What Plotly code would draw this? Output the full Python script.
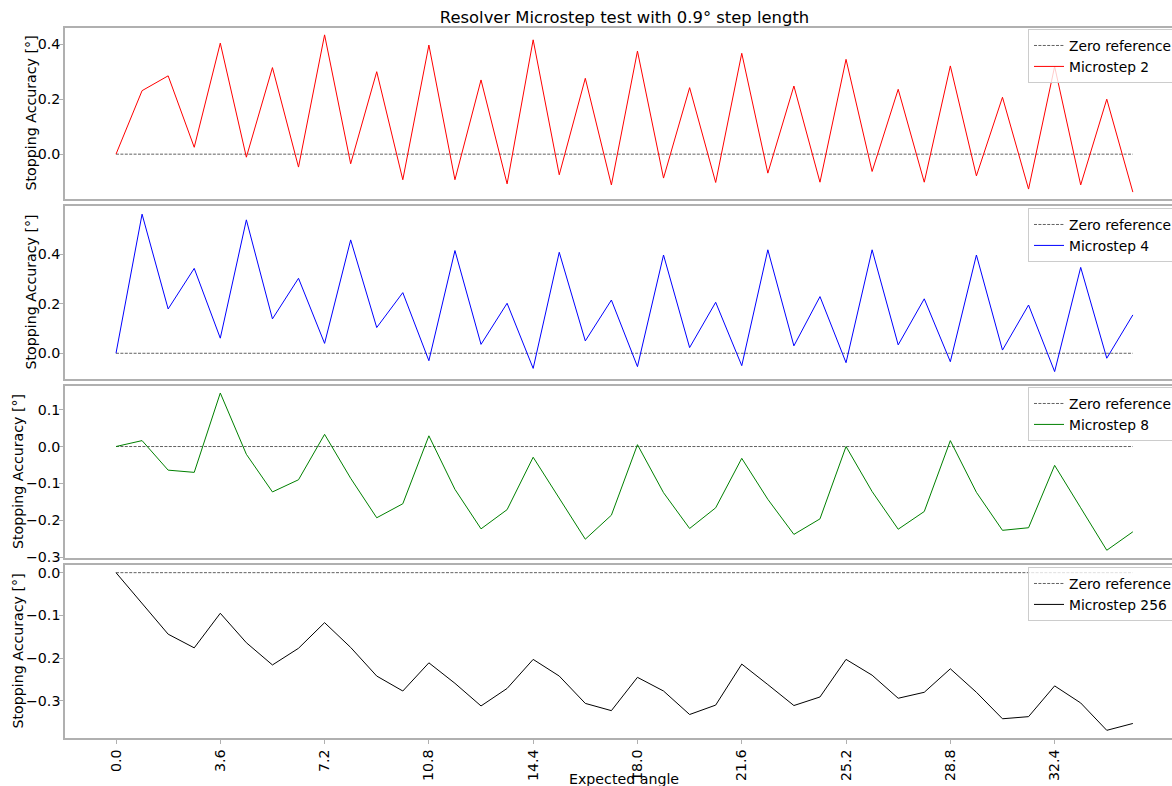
import plotly.graph_objects as go

# ---------------- data ----------------
step_length = 0.9
angles = [round(i * step_length, 1) for i in range(40)]

microstep_2 = [0.000, 0.231, 0.285, 0.025, 0.404, -0.011, 0.315, -0.047, 0.434, -0.035,
               0.300, -0.093, 0.397, -0.093, 0.270, -0.108, 0.416, -0.075, 0.276, -0.112,
               0.375, -0.087, 0.242, -0.103, 0.367, -0.069, 0.248, -0.102, 0.345, -0.063,
               0.236, -0.102, 0.321, -0.079, 0.207, -0.127, 0.319, -0.112, 0.200, -0.138]

microstep_4 = [0.000, 0.562, 0.179, 0.343, 0.061, 0.539, 0.139, 0.303, 0.040, 0.458,
               0.104, 0.245, -0.030, 0.415, 0.036, 0.202, -0.061, 0.408, 0.050, 0.215,
               -0.054, 0.397, 0.023, 0.206, -0.050, 0.418, 0.030, 0.229, -0.038, 0.418,
               0.034, 0.220, -0.034, 0.397, 0.013, 0.195, -0.074, 0.347, -0.020, 0.155]

microstep_8 = [0.000, 0.016, -0.064, -0.070, 0.145, -0.021, -0.123, -0.090, 0.033, -0.086,
               -0.193, -0.155, 0.029, -0.116, -0.223, -0.171, -0.029, -0.140, -0.251, -0.186,
               0.005, -0.125, -0.222, -0.166, -0.032, -0.143, -0.238, -0.196, 0.000, -0.122,
               -0.224, -0.176, 0.016, -0.124, -0.227, -0.220, -0.051, -0.166, -0.281, -0.231]

microstep_256 = [0.000, -0.072, -0.144, -0.176, -0.095, -0.164, -0.216, -0.177, -0.117, -0.175,
                 -0.242, -0.277, -0.211, -0.259, -0.312, -0.271, -0.203, -0.242, -0.306, -0.323,
                 -0.245, -0.277, -0.332, -0.310, -0.214, -0.262, -0.311, -0.291, -0.203, -0.240,
                 -0.294, -0.280, -0.225, -0.280, -0.342, -0.337, -0.265, -0.305, -0.369, -0.353]

series_names = ["Microstep 2", "Microstep 4", "Microstep 8", "Microstep 256"]
series_values = [microstep_2, microstep_4, microstep_8, microstep_256]
series_colors = ["#ff0000", "#0000ff", "#008000", "#000000"]

x_tick_vals = [0.0, 3.6, 7.2, 10.8, 14.4, 18.0, 21.6, 25.2, 28.8, 32.4]
x_tick_text = ["0.0", "3.6", "7.2", "10.8", "14.4", "18.0", "21.6", "25.2", "28.8", "32.4"]

y_ranges = [[-0.163, 0.459], [-0.104, 0.595], [-0.302, 0.164], [-0.387, 0.018]]
y_ticks = [[0.0, 0.2, 0.4], [0.0, 0.2, 0.4], [-0.3, -0.2, -0.1, 0.0, 0.1], [-0.3, -0.2, -0.1, 0.0]]

title_text = "Resolver Microstep test with 0.9° step length"
y_title = "Stopping Accuracy [°]"
x_title = "Expected angle"
zero_name = "Zero reference"

# ---------------- layout geometry ----------------
W, H = 1200, 786            # wider than the window; the right edge is cut off like the original
ML, MR, MT, MB = 65, 13, 28, 48
domains = [[0.7592, 1.0], [0.5056, 0.7493], [0.2535, 0.4958], [0.0, 0.2437]]
ylabel_x_px = [31, 31, 18, 18]
legend_tops_px = [29, 208, 387, 567]
legend_left_px = 1028

FONT = "DejaVu Sans"
FS = 14.2
LEG_FS = 13.8
TITLE_FS = 16.4
SPINE = "#b0b0b0"

fig = go.Figure()
zeros = [0.0 for _ in angles]
for k in range(4):
    suffix = "" if k == 0 else str(k + 1)
    leg = "legend" + suffix
    fig.add_trace(go.Scatter(x=angles, y=zeros, mode="lines", name=zero_name,
                             line=dict(color="rgba(0,0,0,0.62)", width=1, dash="3px,1.4px"),
                             xaxis="x" + suffix, yaxis="y" + suffix, legend=leg))
    fig.add_trace(go.Scatter(x=angles, y=series_values[k], mode="lines", name=series_names[k],
                             line=dict(color=series_colors[k], width=1),
                             xaxis="x" + suffix, yaxis="y" + suffix, legend=leg))

plot_w = W - ML - MR
plot_h = H - MT - MB
px_per_unit = 28.97
x_left = -(116 - ML) / px_per_unit
x_right = x_left + plot_w / px_per_unit

layout = dict(
    width=W, height=H,
    autosize=False,
    margin=dict(l=ML, r=MR, t=MT, b=MB, pad=0, autoexpand=False),
    paper_bgcolor="white", plot_bgcolor="white",
    font=dict(family=FONT, size=FS, color="black"),
    title=dict(text=title_text, x=624.5 / W, xref="container", xanchor="center",
               y=1 - 17 / H, yref="container", yanchor="middle",
               font=dict(family=FONT, size=TITLE_FS, color="black")),
    annotations=[],
    showlegend=True,
)

for k in range(4):
    suffix = "" if k == 0 else str(k + 1)
    last = (k == 3)
    layout["xaxis" + suffix] = dict(
        domain=[0, 1], anchor="y" + suffix, range=[x_left, x_right],
        automargin=False,
        showgrid=False, zeroline=False,
        showline=True, linecolor=SPINE, linewidth=1.5, mirror=True,
        tickvals=x_tick_vals, ticktext=x_tick_text,
        showticklabels=last, ticks="outside" if last else "",
        ticklen=4, tickcolor=SPINE, tickwidth=1, tickangle=-90,
        tickfont=dict(family=FONT, size=FS, color="black"),
        **({} if k == 0 else {"matches": "x"}),
    )
    layout["yaxis" + suffix] = dict(
        domain=domains[k], anchor="x" + suffix, range=y_ranges[k],
        automargin=False,
        showgrid=False, zeroline=False,
        showline=True, linecolor=SPINE, linewidth=1.5, mirror=True,
        tickvals=y_ticks[k], tickformat=".1f",
        ticks="outside", ticklen=4, tickcolor=SPINE, tickwidth=1,
        ticklabelstandoff=-4,
        tickfont=dict(family=FONT, size=FS, color="black"),
    )
    layout["legend" + suffix] = dict(
        x=(legend_left_px - ML) / plot_w, xanchor="left", xref="paper",
        y=1 - (legend_tops_px[k] - MT) / plot_h, yanchor="top", yref="paper",
        bgcolor="rgba(255,255,255,0.8)", bordercolor="#cccccc", borderwidth=1,
        font=dict(family=FONT, size=LEG_FS, color="black"), tracegroupgap=0,
    )
    layout["annotations"].append(dict(
        text=y_title, textangle=-90, showarrow=False,
        xref="paper", x=0, xanchor="center", xshift=ylabel_x_px[k] - ML,
        yref="paper", y=(domains[k][0] + domains[k][1]) / 2, yanchor="middle",
        font=dict(family=FONT, size=FS, color="black"),
    ))

layout["annotations"].append(dict(
    text=x_title, showarrow=False,
    xref="paper", x=(624 - ML) / plot_w, xanchor="center",
    yref="paper", y=0, yanchor="top", yshift=-31,
    font=dict(family=FONT, size=FS, color="black"),
))

fig.update_layout(**layout)
fig.write_html(
    "out.html",
    config={"responsive": False},
    post_script=(
        "document.documentElement.style.overflow='hidden';"
        "document.body.style.overflow='hidden';"
        "document.body.style.margin='0';"
    ),
)
